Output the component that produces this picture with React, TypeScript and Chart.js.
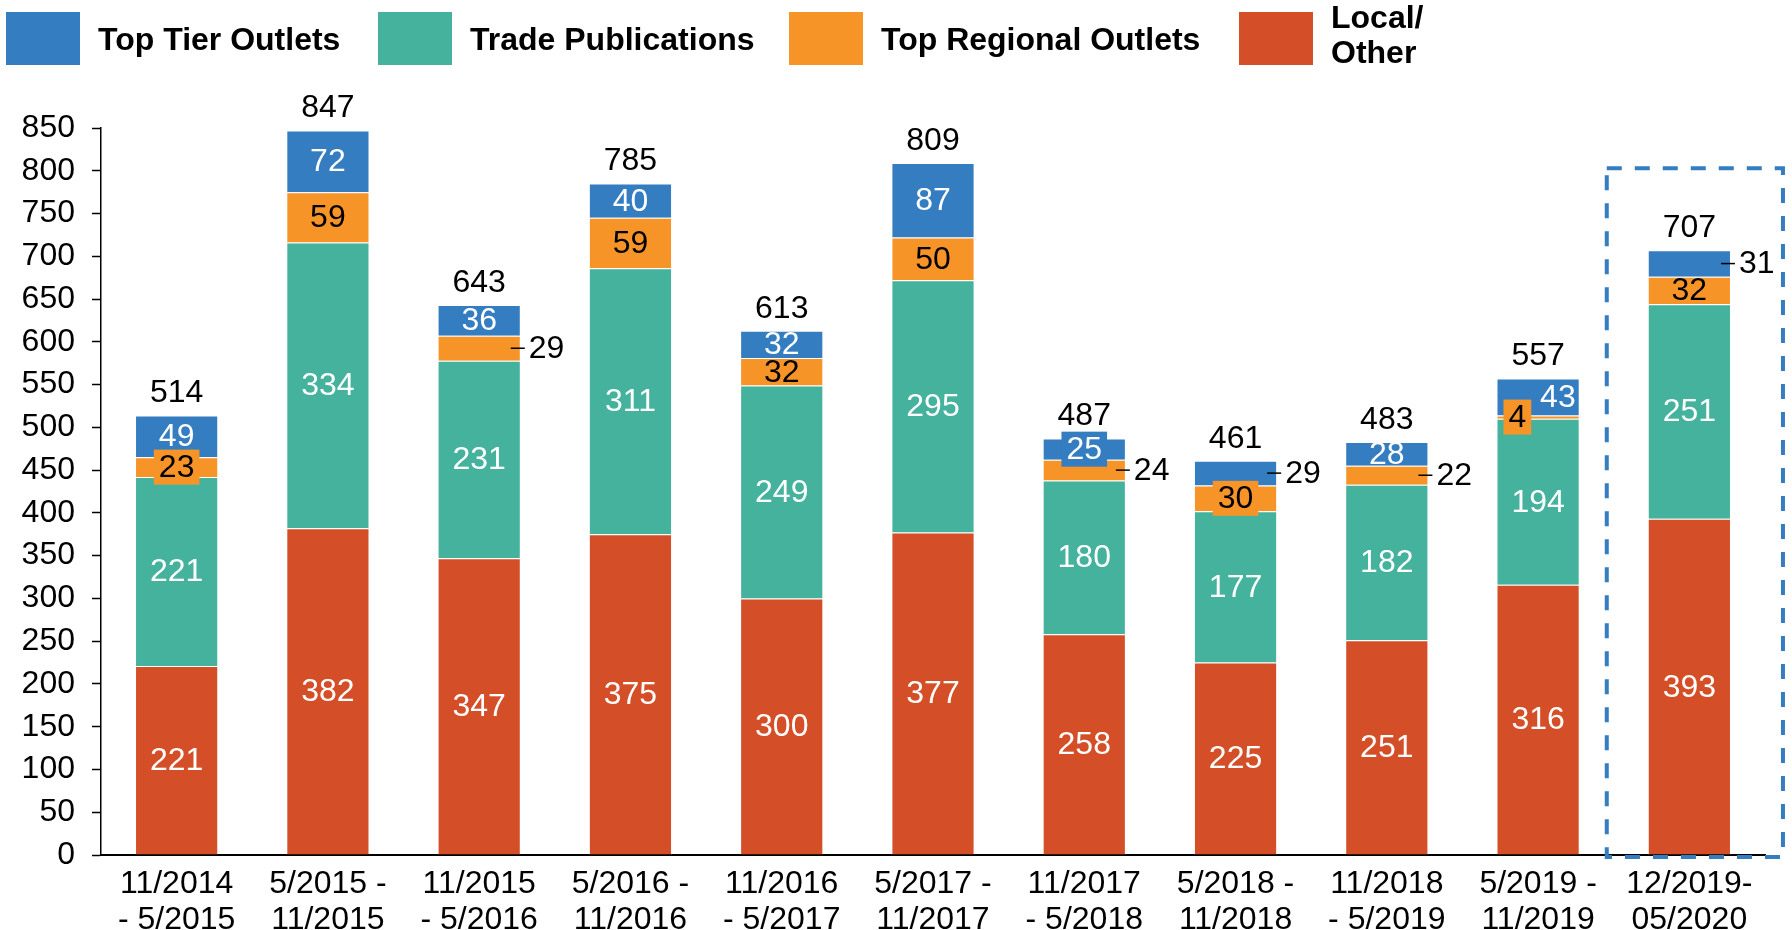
import React, { useEffect, useRef } from 'react';
import { Chart, registerables } from 'chart.js';

Chart.register(...registerables);

const FONT = '"Liberation Sans", Arial, Helvetica, sans-serif';

// ---- data ----
const categories: string[][] = [
  ['11/2014', '- 5/2015'],
  ['5/2015 -', '11/2015'],
  ['11/2015', '- 5/2016'],
  ['5/2016 -', '11/2016'],
  ['11/2016', '- 5/2017'],
  ['5/2017 -', '11/2017'],
  ['11/2017', '- 5/2018'],
  ['5/2018 -', '11/2018'],
  ['11/2018', '- 5/2019'],
  ['5/2019 -', '11/2019'],
  ['12/2019-', '05/2020'],
];
const localOther = [221, 382, 347, 375, 300, 377, 258, 225, 251, 316, 393];
const tradePublications = [221, 334, 231, 311, 249, 295, 180, 177, 182, 194, 251];
const topRegional = [23, 59, 29, 59, 32, 50, 24, 30, 22, 4, 32];
const topTier = [49, 72, 36, 40, 32, 87, 25, 29, 28, 43, 31];
const yMax = 850;
const yStep = 50;

const COLORS = {
  local: '#D44F28',
  trade: '#45B29D',
  regional: '#F79428',
  tier: '#347DC1',
};

// label placement rules (styles, not data)
const OUTSIDE: Record<string, number[]> = { regional: [2, 6, 8], tier: [7, 10] };
const BOXED: Record<string, number[]> = { regional: [0, 7, 9], tier: [6] };
const ALIGN: Record<string, 'left' | 'right'> = { 'regional-9': 'left', 'tier-9': 'right' };

const labelPlugin = {
  id: 'valueLabels',
  afterDatasetsDraw(chart: any) {
    const ctx = chart.ctx as CanvasRenderingContext2D;
    ctx.save();
    ctx.font = `32px ${FONT}`;
    ctx.textBaseline = 'middle';
    const tops: number[] = [];
    chart.data.datasets.forEach((ds: any, di: number) => {
      const meta = chart.getDatasetMeta(di);
      meta.data.forEach((bar: any, i: number) => {
        const p = bar.getProps(['x', 'y', 'base', 'width'], true);
        const left = p.x - p.width / 2;
        const right = p.x + p.width / 2;
        const cy = (p.y + p.base) / 2;
        tops[i] = tops[i] === undefined ? p.y : Math.min(tops[i], p.y);
        const txt = String(ds.data[i]);
        const key = ds.key as string;
        const textColor = key === 'regional' ? '#000' : '#fff';
        if ((OUTSIDE[key] || []).includes(i)) {
          ctx.strokeStyle = '#000';
          ctx.lineWidth = 1.5;
          ctx.beginPath();
          ctx.moveTo(right - 10, cy);
          ctx.lineTo(right + 4, cy);
          ctx.stroke();
          ctx.fillStyle = '#000';
          ctx.textAlign = 'left';
          ctx.fillText(txt, right + 8, cy + 1);
          return;
        }
        const tw = ctx.measureText(txt).width;
        const align = ALIGN[`${key}-${i}`];
        let tx = p.x;
        if (align === 'left') tx = left + 7 + (tw + 10) / 2;
        if (align === 'right') tx = right - 4 - tw / 2;
        if ((BOXED[key] || []).includes(i)) {
          ctx.fillStyle = ds.backgroundColor;
          const bw = tw + 10;
          const bh = 35;
          ctx.fillRect(tx - bw / 2, cy - bh / 2, bw, bh);
        }
        ctx.fillStyle = textColor;
        ctx.textAlign = 'center';
        ctx.fillText(txt, tx, cy + 1);
      });
    });
    // totals
    ctx.fillStyle = '#000';
    ctx.textAlign = 'center';
    const xs = chart.getDatasetMeta(0).data;
    tops.forEach((t, i) => {
      const total = chart.data.datasets.reduce((s: number, ds: any) => s + ds.data[i], 0);
      ctx.fillText(String(total), xs[i].x, t - 22);
    });
    ctx.restore();
  },
  afterDraw(chart: any) {
    const ctx = chart.ctx as CanvasRenderingContext2D;
    ctx.save();
    // highlight dashed box around last category
    const last = chart.getDatasetMeta(0).data[categories.length - 1];
    const p = last.getProps(['x', 'width'], true);
    const yS = chart.scales.y;
    const l = p.x - p.width / 2 - 41;
    const r = p.x + p.width / 2 + 52;
    const t = yS.getPixelForValue(803);
    const b = yS.getPixelForValue(0) + 2;
    ctx.strokeStyle = COLORS.tier;
    ctx.lineWidth = 4;
    ctx.setLineDash([15, 13]);
    ctx.strokeRect(l, t, r - l, b - t);
    ctx.setLineDash([]);

    // legend
    const order = [3, 1, 2, 0];
    const xStarts = [6, 378, 789, 1239];
    ctx.font = `bold 32px ${FONT}`;
    ctx.textBaseline = 'middle';
    ctx.textAlign = 'left';
    order.forEach((di, k) => {
      const ds = chart.data.datasets[di];
      const x0 = xStarts[k];
      ctx.fillStyle = ds.backgroundColor;
      ctx.fillRect(x0, 12, 74, 53);
      ctx.fillStyle = '#000';
      const lines = String(ds.label).split('\n');
      if (lines.length === 1) {
        ctx.fillText(lines[0], x0 + 92, 41);
      } else {
        ctx.fillText(lines[0], x0 + 92, 19);
        ctx.fillText(lines[1], x0 + 92, 54);
      }
    });
    ctx.restore();
  },
};

export default function App() {
  const ref = useRef<HTMLCanvasElement>(null);
  useEffect(() => {
    if (!ref.current) return;
    const border = 'rgba(255,255,255,0.45)';
    const chart = new Chart(ref.current, {
      type: 'bar',
      data: {
        labels: categories,
        datasets: [
          { key: 'local', label: 'Local/\nOther', data: localOther, backgroundColor: COLORS.local, borderColor: border, borderWidth: 1 } as any,
          { key: 'trade', label: 'Trade Publications', data: tradePublications, backgroundColor: COLORS.trade, borderColor: border, borderWidth: 1 } as any,
          { key: 'regional', label: 'Top Regional Outlets', data: topRegional, backgroundColor: COLORS.regional, borderColor: border, borderWidth: 1 } as any,
          { key: 'tier', label: 'Top Tier Outlets', data: topTier, backgroundColor: COLORS.tier, borderColor: border, borderWidth: 1 } as any,
        ],
      },
      options: {
        responsive: false,
        animation: false,
        devicePixelRatio: 1,
        layout: { padding: { left: 0, top: 128, right: 27, bottom: 0 } },
        datasets: { bar: { categoryPercentage: 1, barPercentage: 0.55 } },
        plugins: {
          legend: { display: false },
          tooltip: { enabled: false },
          title: { display: false },
        },
        scales: {
          x: {
            stacked: true,
            grid: { drawOnChartArea: false, drawTicks: false },
            border: { display: true, color: '#000', width: 2 },
            ticks: {
              color: '#000',
              font: { family: FONT, size: 32, lineHeight: 1.1 },
              padding: 12,
              maxRotation: 0,
              autoSkip: false,
            },
            afterFit: (s: any) => { s.height = 75; },
          },
          y: {
            stacked: true,
            min: 0,
            max: yMax,
            grid: { drawOnChartArea: false, drawTicks: true, tickLength: 9, tickColor: '#000', tickWidth: 1.5 },
            border: { display: true, color: '#000', width: 1.5 },
            ticks: {
              stepSize: yStep,
              color: '#000',
              font: { family: FONT, size: 32 },
              padding: 17,
            },
            afterFit: (s: any) => { s.width = 101; },
          },
        },
      },
      plugins: [labelPlugin],
    });
    return () => chart.destroy();
  }, []);
  return (
    <div style={{ position: 'fixed', left: 0, top: 0, width: 1792, height: 930, background: '#fff' }}>
      <canvas ref={ref} width={1792} height={930} style={{ display: 'block' }} />
    </div>
  );
}
